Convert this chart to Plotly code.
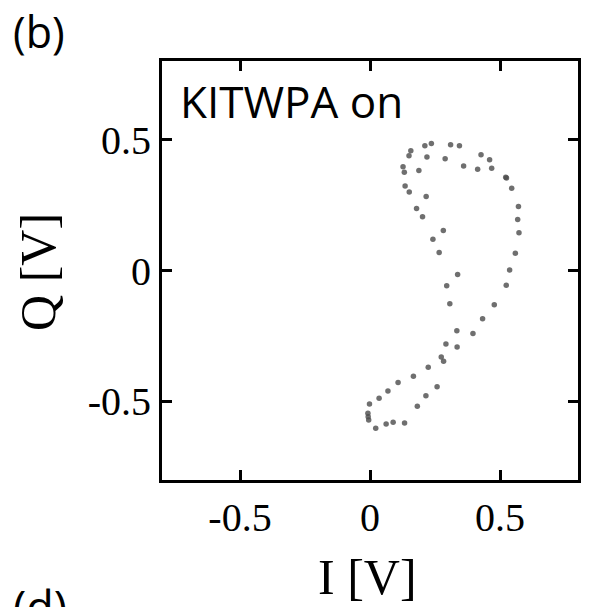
import plotly.graph_objects as go

# Data (I, Q in volts)
I_vals = [0.157, 0.150, 0.211, 0.236, 0.310, 0.344, 0.219, 0.289, 0.427, 0.460,
          0.360, 0.414, 0.468, 0.127, 0.132, 0.188, 0.525, 0.522, 0.545, 0.135,
          0.151, 0.216, 0.571, 0.179, 0.202, 0.568, 0.573, 0.282, 0.242, 0.266,
          0.559, 0.537, 0.337, 0.524, 0.295, 0.307, 0.478, 0.433, 0.334, 0.396,
          0.292, 0.335, 0.274, 0.283, 0.224, 0.167, 0.258, 0.108, 0.069, 0.035,
          0.215, -0.002, 0.182, -0.008, -0.007, -0.005, 0.022, 0.062, 0.089, 0.133]
Q_vals = [0.457, 0.438, 0.476, 0.485, 0.480, 0.476, 0.433, 0.427, 0.442, 0.423,
          0.399, 0.387, 0.390, 0.396, 0.375, 0.382, 0.353, 0.356, 0.314, 0.323,
          0.300, 0.283, 0.244, 0.237, 0.205, 0.195, 0.144, 0.153, 0.119, 0.069,
          0.066, 0.002, -0.015, -0.056, -0.058, -0.127, -0.131, -0.184, -0.230, -0.241,
          -0.281, -0.292, -0.330, -0.347, -0.369, -0.404, -0.444, -0.428, -0.460, -0.488,
          -0.478, -0.510, -0.518, -0.545, -0.558, -0.571, -0.602, -0.586, -0.579, -0.582]

tick_vals = [-0.5, 0, 0.5]
tick_text = ["-0.5", "0", "0.5"]

W, H = 589, 607
L, R, T, B = 162, 8, 61, 127
PW = W - L - R
PH = H - T - B


def px(x):
    return (x - L) / PW


def py(y):
    return (H - B - y) / PH


serif = "Liberation Serif"
sans = "Open Sans"

fig = go.Figure()
fig.add_trace(go.Scatter(
    x=I_vals, y=Q_vals, mode="markers",
    marker=dict(size=5.5, color="rgba(75,75,75,0.8)", line=dict(width=0)),
    showlegend=False, hoverinfo="skip"))

axis_common = dict(
    range=[-0.8, 0.8], tickvals=tick_vals, ticktext=tick_text,
    showgrid=False, zeroline=False, showline=True, linecolor="black",
    linewidth=3, mirror="ticks", ticks="inside", ticklen=10, tickwidth=3,
    tickcolor="black", tickfont=dict(family=serif, size=40, color="black"))

fig.update_xaxes(**axis_common)
fig.update_yaxes(**axis_common)

annotations = [
    dict(text="KITWPA on", x=px(178), y=py(101), xanchor="left", yanchor="middle",
         font=dict(family=sans, size=44, color="black")),
    dict(text="I [V]", x=px(369), y=py(577), xanchor="center", yanchor="middle",
         font=dict(family=serif, size=50, color="black")),
    dict(text="Q [V]", x=px(37), y=py(272), xanchor="center", yanchor="middle",
         textangle=-90, font=dict(family=serif, size=50, color="black")),
    dict(text="(b)", x=px(10), y=py(31), xanchor="left", yanchor="middle",
         font=dict(family=sans, size=43, color="black")),
    dict(text="(d)", x=px(10), y=py(574), xanchor="left", yanchor="top",
         font=dict(family=sans, size=45, color="black")),
]
for a in annotations:
    a.update(xref="paper", yref="paper", showarrow=False)

fig.update_layout(
    width=W, height=H, margin=dict(l=L, r=R, t=T, b=B),
    paper_bgcolor="white", plot_bgcolor="white",
    annotations=annotations)

fig.write_html("out.html")
